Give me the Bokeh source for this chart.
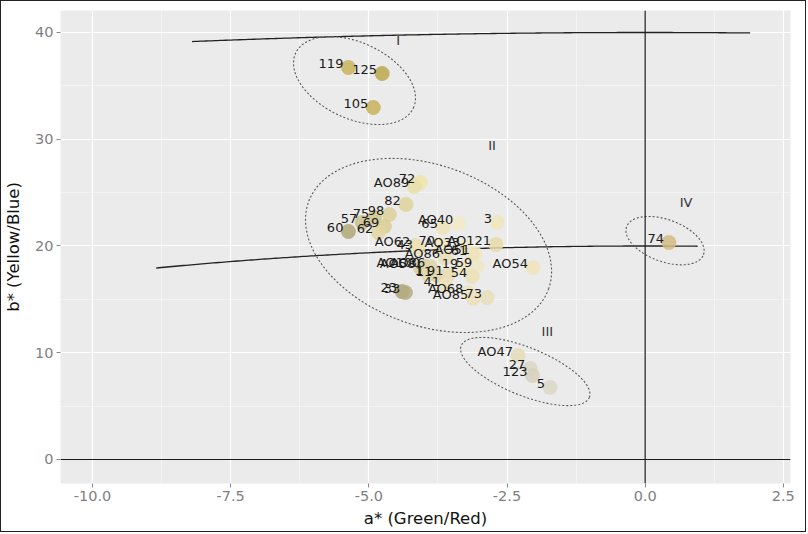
import numpy as np
from bokeh.plotting import figure
from bokeh.models import ColumnDataSource, FixedTicker, Span
from bokeh.core.properties import value
from bokeh.embed import file_html
from bokeh.resources import INLINE

# --- samples: CIELAB a* / b* coordinates, label and swatch colour ---
labels = ["119", "125", "105",
          "72", "AO89", "82", "98", "75", "57", "60", "69", "62",
          "AO40", "65", "3", "AO121", "AO33", "70", "AO62", "43",
          "AO51", "61", "AO86", "AO100", "AO58", "AO36", "19", "59",
          "54", "1", "11", "91", "41", "AO68", "AO85", "73", "AO54",
          "23", "33",
          "AO47", "27", "123", "5",
          "74"]
a_star = [-5.37, -4.76, -4.92,
          -4.07, -4.18, -4.33, -4.63, -4.90, -5.12, -5.37, -4.72, -4.83,
          -3.38, -3.66, -2.68, -2.70, -3.26, -3.71, -4.16, -4.11,
          -3.08, -3.13, -3.62, -3.98, -4.07, -3.89, -3.29, -3.04,
          -3.13, -3.93, -3.76, -3.56, -3.62, -3.20, -3.11, -2.86, -2.03,
          -4.40, -4.34,
          -2.30, -2.08, -2.04, -1.72,
          0.43]
b_star = [36.72, 36.16, 32.97,
          25.95, 25.57, 23.89, 22.95, 22.67, 22.20, 21.36, 21.83, 21.26,
          22.11, 21.73, 22.20, 20.14, 19.95, 20.14, 20.05, 19.77,
          19.30, 19.20, 18.92, 18.08, 17.99, 18.08, 17.99, 18.08,
          17.14, 17.33, 17.24, 17.33, 16.30, 15.64, 15.08, 15.18, 17.99,
          15.74, 15.64,
          9.74, 8.52, 7.87, 6.74,
          20.33]
swatch = ["#c9b55b", "#bca84c", "#c8b05a",
          "#efe5ac", "#e9dfa6", "#ddd39c", "#dcd09a", "#d0c68c", "#cbc18b", "#b0a878", "#d8cc94", "#e2d6a0",
          "#f3eac4", "#efe3b6", "#f1e5ba", "#e6d9a8", "#f2e9c6", "#f1e7c0", "#e8ddb0", "#ece2b6",
          "#f0e7c5", "#ede2b8", "#e9dfb5", "#d9d0a4", "#d6cc9c", "#e0d6aa", "#efe6c2", "#f0e7c4",
          "#ebe0b6", "#e4d9ab", "#e0d5a6", "#e8ddb2", "#ece2ba", "#eee4bf", "#ece1bb", "#e8dfba", "#f1e4b8",
          "#aea67a", "#b4ac80",
          "#e6dcb8", "#dcd6c2", "#d6d0bc", "#dcd8c8",
          "#d4bc82"]

# --- colour groups: name position and confidence-ellipse shape ---
group_names = ["I", "II", "III", "IV"]
group_name_a = [-4.47, -2.77, -1.77, 0.74]
group_name_b = [39.25, 29.41, 11.99, 24.07]
ell_center_a = [-5.26, -3.92, -2.17, 0.36]
ell_center_b = [35.5, 20.05, 8.24, 20.5]
ell_major = [1.175, 2.31, 1.25, 0.74]    # semi-axes, in a* units
ell_minor = [0.687, 1.45, 0.434, 0.38]
ell_angle = [-25, -20, -22, -20]         # degrees, as seen on screen

# --- chroma reference arcs C* = sqrt(a*^2 + b*^2) ---
chroma_radius = [40, 20]
chroma_from = [-8.2, -8.85]
chroma_to = [1.9, 0.95]

# axis ticks
x_ticks = [-10.0, -7.5, -5.0, -2.5, 0.0, 2.5]
x_tick_text = ["-10.0", "-7.5", "-5.0", "-2.5", "0.0", "2.5"]
x_minor = [-8.75, -6.25, -3.75, -1.25, 1.25]
y_ticks = [0, 10, 20, 30, 40]
y_minor = [5, 15, 25, 35]

X_RANGE = (-10.58, 2.63)
Y_RANGE = (-2.25, 42.06)
FONT_NAME = "DejaVu Sans"
FONT = value(FONT_NAME)

p = figure(width=806, height=532, x_range=X_RANGE, y_range=Y_RANGE,
           output_backend="svg", toolbar_location=None,
           min_border_left=59, min_border_right=17,
           min_border_top=9, min_border_bottom=50,
           background_fill_color="#EBEBEB", border_fill_color="white")
p.outline_line_color = None
p.styles = {"border": "1px solid #222"}

# grid
p.xaxis.ticker = FixedTicker(ticks=x_ticks, minor_ticks=x_minor)
p.yaxis.ticker = FixedTicker(ticks=y_ticks, minor_ticks=y_minor)
p.xaxis.major_label_overrides = {t: s for t, s in zip(x_ticks, x_tick_text)}
p.grid.grid_line_color = "white"
p.grid.grid_line_width = 1.2
p.grid.minor_grid_line_color = "white"
p.grid.minor_grid_line_width = 0.6
p.grid.minor_grid_line_alpha = 0.7

# axes
for ax in (p.xaxis, p.yaxis):
    ax.axis_line_color = None
    ax.major_tick_line_color = "#8a8a8a"
    ax.major_tick_out = 4
    ax.major_tick_in = 0
    ax.minor_tick_line_color = None
    ax.major_label_text_font = FONT_NAME
    ax.major_label_text_font_size = "14.5px"
    ax.major_label_text_color = "#7f7f7f"
    ax.major_label_standoff = 3
    ax.axis_label_text_font = FONT_NAME
    ax.axis_label_text_font_size = "16.5px"
    ax.axis_label_text_font_style = "normal"
    ax.axis_label_text_color = "#111111"
p.xaxis.axis_label = "a* (Green/Red)"
p.yaxis.axis_label = "b* (Yellow/Blue)"
p.xaxis.axis_label_standoff = 5
p.yaxis.axis_label_standoff = 9

# a* = 0 and b* = 0 reference lines
p.add_layout(Span(location=0, dimension="width", line_color="#1a1a1a", line_width=1.2))
p.add_layout(Span(location=0, dimension="height", line_color="#1a1a1a", line_width=1.2))

# chroma arcs
for r, a0, a1 in zip(chroma_radius, chroma_from, chroma_to):
    aa = np.linspace(a0, a1, 200)
    p.line(aa, np.sqrt(r ** 2 - aa ** 2), line_color="#222222", line_width=1.3)

# group ellipses (drawn round on screen, so b* is stretched by the axis aspect)
frame_w = 806 - 59 - 17
frame_h = 532 - 9 - 50
aspect = (frame_w / (X_RANGE[1] - X_RANGE[0])) / (frame_h / (Y_RANGE[1] - Y_RANGE[0]))
t = np.linspace(0, 2 * np.pi, 240)
for ca, cb, A, B, ang in zip(ell_center_a, ell_center_b, ell_major, ell_minor, ell_angle):
    th = np.deg2rad(ang)
    da = A * np.cos(t) * np.cos(th) - B * np.sin(t) * np.sin(th)
    db = (A * np.cos(t) * np.sin(th) + B * np.sin(t) * np.cos(th)) * aspect
    p.line(ca + da, cb + db, line_color="#555555", line_width=1.1, line_dash="2 2")

# samples
src = ColumnDataSource(dict(a=a_star, b=b_star, lab=labels, col=swatch))
p.scatter("a", "b", source=src, size=15, fill_color="col", fill_alpha=0.85,
          line_color=None)
p.text("a", "b", text="lab", source=src, text_align="right", text_baseline="middle",
       x_offset=-5, y_offset=-4, text_font=FONT, text_font_size="13px",
       text_color="#1a1a1a")

# group names
p.text(group_name_a, group_name_b, text=group_names, text_align="center",
       text_baseline="middle", text_font=FONT, text_font_size="13px",
       text_color="#333333")

open("out.html", "w").write(file_html(p, INLINE))
